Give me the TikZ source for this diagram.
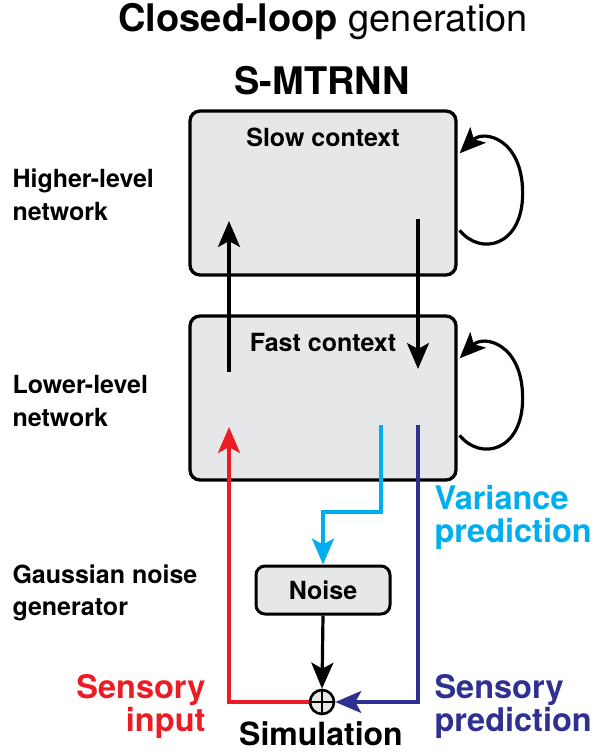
\documentclass[tikz,border=0pt]{standalone}
\usepackage{fontspec}
\setmainfont{TeX Gyre Heros}
\usetikzlibrary{arrows.meta,positioning,calc}
\definecolor{boxgray}{HTML}{E6E7E8}
\definecolor{sensred}{HTML}{ED1C24}
\definecolor{varcyan}{HTML}{00AEEF}
\definecolor{prednavy}{HTML}{2E3192}
\begin{document}
\begin{tikzpicture}[x=1pt, y=-1pt, >={Stealth[length=26pt,width=22pt,inset=6pt]}]
        \tikzset{
            ctxbox/.style={draw, fill=boxgray, rectangle, rounded corners=10pt, line width=3.3pt, minimum width=266pt, minimum height=164pt, inner sep=0pt},
            noisebox/.style={draw, fill=boxgray, rectangle, rounded corners=9pt, line width=3pt, minimum width=134pt, minimum height=48pt, font=\bfseries\fontsize{25}{25}\selectfont},
            ctxlabel/.style={anchor=base, font=\bfseries\fontsize{25}{25}\selectfont},
            sidelabel/.style={align=left, anchor=west, font=\bfseries\fontsize{25}{33}\selectfont},
            biglabel/.style={font=\bfseries\fontsize{32.5}{33}\selectfont},
            link/.style={line width=3.2pt},
        }
        \useasboundingbox (0,0) rectangle (598,752);

        % Titles
        \node [anchor=base west, font=\fontsize{38}{38}\selectfont] (title) at (115,32) {\textbf{Closed-loop} generation};
        \node [anchor=base, font=\bfseries\fontsize{38}{38}\selectfont] (model) at (322,95) {S-MTRNN};

        % Context layers
        \node [ctxbox] (slow) at (323,193) {};
        \node [ctxbox] (fast) at (323,398) {};
        \node [ctxlabel] (slowtxt) at (323,146) {Slow context};
        \node [ctxlabel] (fasttxt) at (323,351) {Fast context};

        % Noise generator and summation
        \node [noisebox] (noise) at (323,590) {Noise};
        \node [circle, draw, fill=boxgray, line width=2.6pt, minimum size=24pt, inner sep=0pt] (sum) at (322,702) {};
        \draw [line width=1.8pt] (sum.north) -- (sum.south) (sum.west) -- (sum.east);
        \node [anchor=base, font=\bfseries\fontsize{32}{32}\selectfont] (simtxt) at (321,745) {Simulation};

        % Free ends of connectors
        \coordinate (upfrom) at (229,372);
        \coordinate (upto) at (229,221);
        \coordinate (downfrom) at (418,219);
        \coordinate (downto) at (418,369);
        \coordinate (redtip) at (229,427);
        \coordinate (cyfrom) at (381,425);
        \coordinate (cybend) at (381,512);
        \coordinate (navyfrom) at (418,425);

        % Between layers
        \draw [->, link] (upfrom) -- (upto);
        \draw [->, link] (downfrom) -- (downto);

        % Recurrent loops
        \foreach \lay in {slow, fast} {
            \draw [->, link] ($(\lay.north east)+(2,121)$)
                .. controls +(21,26) and +(0,53) .. ($(\lay.north east)+(65,84)$)
                .. controls +(0,-55) and +(24,-24) .. ($(\lay.north east)+(2,44)$);
        }

        % Sensory and noise paths
        \draw [->, link, sensred] (sum.west) -| (redtip);
        \draw [->, link, varcyan] (cyfrom) -- (cybend) -| (noise.north);
        \draw [->, link] (noise.south) -- (sum.north);
        \draw [->, link, prednavy] (navyfrom) |- (sum.east);

        % Labels
        \node [sidelabel] (highlab) at (9,195) {Higher-level\\network};
        \node [sidelabel] (lowlab) at (9,401) {Lower-level\\network};
        \node [sidelabel, font=\bfseries\fontsize{25}{32}\selectfont] (gausslab) at (9,593) {Gaussian noise\\generator};
        \node [biglabel, align=left, anchor=west, text=varcyan] (varlab) at (431,517) {Variance\\prediction};
        \node [biglabel, align=left, anchor=west, text=prednavy] (predlab) at (431,706) {Sensory\\prediction};
        \node [biglabel, align=right, anchor=east, text=sensred] (inlab) at (209,706) {Sensory\\input};
    \end{tikzpicture}
\end{document}
